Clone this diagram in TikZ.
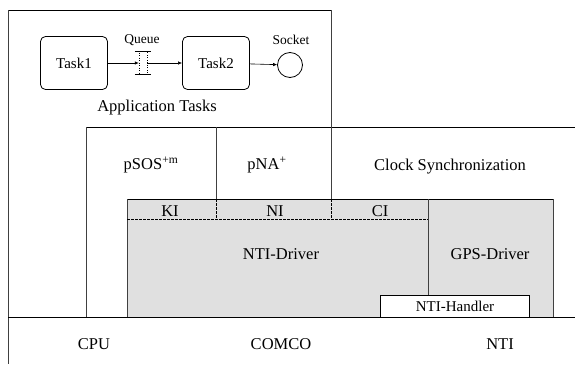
\documentclass[tikz,border=0pt]{standalone}
\usepackage{fontspec}
\setmainfont{Liberation Serif}
\usetikzlibrary{arrows.meta}

\begin{document}
\begin{tikzpicture}
        [x=1pt, y=-1pt,
        layer/.style={line width=0.9pt},
        side/.style={line width=0.5pt, color=black!75},
        sepdash/.style={line width=0.6pt, dash pattern=on 2.5pt off 1.5pt},
        shade/.style={fill=black!12},
        task/.style={draw, line width=0.8pt, rounded corners=5pt, minimum width=67pt, minimum height=53pt, font=\fontsize{15}{17}\selectfont},
        big/.style={font=\fontsize{16.5}{19}\selectfont},
        small/.style={font=\fontsize{13.5}{15}\selectfont},
        flow/.style={-{Latex[length=4pt,width=3.5pt]}, line width=0.6pt}]
\useasboundingbox (0,0) rectangle (575,364);
%
%% Shaded driver area
%%
\fill[shade] (127,199) rectangle (553,317);
%%
%% Application layer
%%
\draw[layer] (8,10) -- (331,10);
\draw[side] (8,10) -- (8,364);
\draw[side] (331,10) -- (331,127);

\node[task] (task1) at (74,63) {Task1};
\node[task] (task2) at (216,63) {Task2};
\node[draw, dotted, line width=0.5pt, minimum width=8pt, minimum height=23pt, inner sep=0pt] (queue) at (143,63) {};
\draw[line width=1pt] ([xshift=-4pt]queue.north west) -- ([xshift=4pt]queue.north east);
\draw[line width=1pt] ([xshift=-4pt]queue.south west) -- ([xshift=4pt]queue.south east);
\node[draw, circle, line width=0.8pt, minimum size=25pt, inner sep=0pt] (socket) at (290,65) {};
\node[small] (queueLabel) at (142,40) {Queue};
\node[small] (socketLabel) at (291,40) {Socket};

\draw[flow] (task1) -- (queue);
\draw[flow] (queue) -- (task2);
\draw[flow] (task2) -- (socket);

\node[big] (appTasks) at (157,108) {Application Tasks};
%%
%% Operating system layer
%%
\draw[layer] (86,127) -- (575,127);
\draw[side] (86,127) -- (86,317);
\draw[side] (216,127) -- (216,199);
\draw[side] (331,127) -- (331,199);

\node[big] (psos) at (151,165) {pSOS\textsuperscript{+m}};
\node[big] (pna) at (267,165) {pNA\textsuperscript{+}};
\node[big] (clockSync) at (450,167) {Clock Synchronization};
%%
%% Driver layer
%%
\draw[layer] (127,199) -- (553,199);
\draw[side] (127,199) -- (127,317);
\draw[side] (553,199) -- (553,317);
\draw[side] (428,199) -- (428,295);
\draw[sepdash] (216,199) -- (216,219);
\draw[sepdash] (331,199) -- (331,219);
\draw[sepdash] (127,219) -- (428,219);

\node[big] (ki) at (170,211) {KI};
\node[big] (ni) at (275,211) {NI};
\node[big] (ci) at (380,211) {CI};
\node[big] (ntiDriver) at (281,254) {NTI-Driver};
\node[big] (gpsDriver) at (490,254) {GPS-Driver};

\draw[layer, fill=white] (380,317) -- (380,295) -- (529,295) -- (529,317);
\node[font=\fontsize{15}{17}\selectfont] (ntiHandler) at (455,306) {NTI-Handler};
%%
%% Hardware layer
%%
\draw[layer] (8,317) -- (575,317);

\node[big] (cpu) at (94,344) {CPU};
\node[big] (comco) at (281,344) {COMCO};
\node[big] (nti) at (500,344) {NTI};

\end{tikzpicture}
\end{document}
